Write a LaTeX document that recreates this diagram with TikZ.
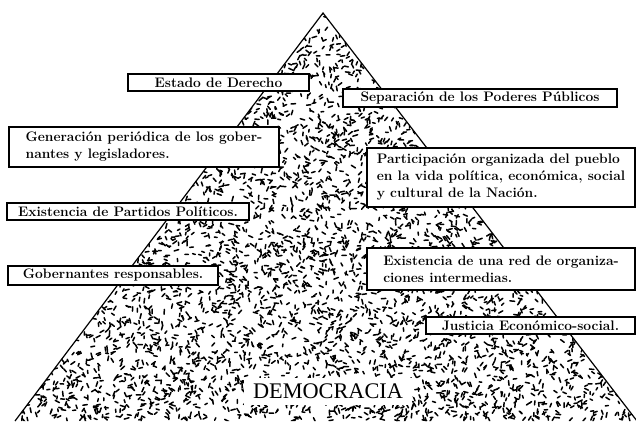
\documentclass[tikz,border=0pt]{standalone}
\usepackage{fontspec}
\newfontfamily\demofont{Liberation Serif}
\begin{document}
\begin{tikzpicture}[x=1pt,y=-1pt,
  boxtext/.style={draw=black, line width=1.2pt, fill=white, inner sep=0pt,
    font=\fontsize{13.8}{17}\selectfont\bfseries, align=left},
  grain/.style={line width=1.5pt, line cap=round, black},
  edge/.style={line width=1.2pt, black}]
\useasboundingbox (0,0) rectangle (636,421);
\coordinate (apex) at (323,13);
\coordinate (bl) at (15,421);
\coordinate (br) at (637,421);
% texture
\begin{scope}
\clip (apex) -- (bl) -- (br) -- cycle;
\pgfmathsetseed{4711}
\foreach \i in {1,...,3500}{
  \pgfmathsetmacro\ra{sqrt(rnd)}
  \pgfmathsetmacro\rb{rnd}
  \pgfmathsetmacro\px{(1-\ra)*323+\ra*(1-\rb)*15+\ra*\rb*637}
  \pgfmathsetmacro\py{(1-\ra)*13+\ra*421}
  \pgfmathsetmacro\ang{rnd*180}
  \pgfmathsetmacro\len{2.6+rnd*2.4}
  \draw[grain] (\px,\py) ++(\ang:\len/2) -- ++(\ang+180:\len);
}
\end{scope}
\draw[edge] (bl) -- (apex) -- (br);
% central label on a cleared patch
\node[fill=white, draw=none, inner xsep=9pt, inner ysep=6pt,
  font=\demofont\fontsize{22.3}{26}\selectfont, text=black] (democracia) at (328,391) {DEMOCRACIA};
% boxes
\node[boxtext, minimum width=181pt, minimum height=17pt] (estado) at (218.5,82.5) {Estado de Derecho};
\node[boxtext, minimum width=274pt, minimum height=18pt] (separacion) at (480,98) {Separación de los Poderes Públicos};
\node[boxtext, minimum width=270pt, minimum height=40pt] (generacion) at (144,147) {Generación periódica de los gober-\\nantes y legisladores.};
\node[boxtext, minimum width=242pt, minimum height=17pt] (partidos) at (128,211.5) {Existencia de Partidos Políticos.};
\node[boxtext, minimum width=210pt, minimum height=19pt] (gobernantes) at (113,275.5) {Gobernantes responsables.};
\node[boxtext, minimum width=268pt, minimum height=59pt] (participacion) at (501,177.5) {Participación organizada del pueblo\\en la vida política, económica, social\\y cultural de la Nación.};
\node[boxtext, minimum width=268pt, minimum height=42pt] (red) at (501,269) {Existencia de una red de organiza-\\ciones intermedias.};
\node[boxtext, minimum width=209pt, minimum height=17pt] (justicia) at (530.5,325.5) {Justicia Económico-social.};
\end{tikzpicture}
\end{document}
